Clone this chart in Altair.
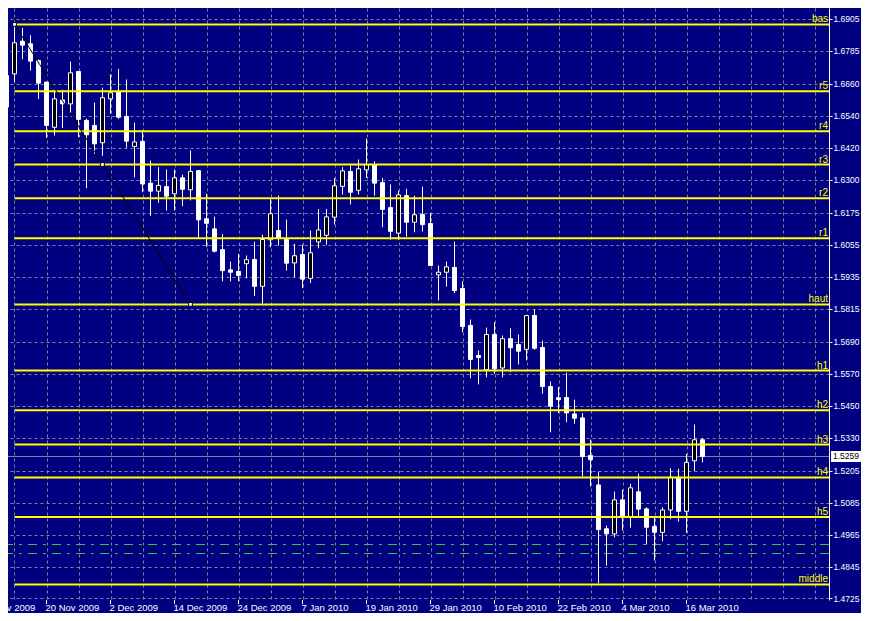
import altair as alt
import pandas as pd

# ---------------- data ----------------
opens = [1.6573, 1.6698, 1.6821, 1.6811, 1.6748, 1.6667, 1.6497, 1.6600, 1.6585, 1.6707,
         1.6523, 1.6504, 1.6439, 1.6604, 1.6629, 1.6538, 1.6425, 1.6444, 1.6287, 1.6257,
         1.6274, 1.6247, 1.6307, 1.6262, 1.6334, 1.6153, 1.6115, 1.6037, 1.5961, 1.5955,
         1.5984, 1.6000, 1.5899, 1.6074, 1.6109, 1.6075, 1.5987, 1.6019, 1.5929, 1.6066,
         1.6091, 1.6159, 1.6275, 1.6331, 1.6260, 1.6337, 1.6356, 1.6289, 1.6195, 1.6099,
         1.6240, 1.6140, 1.6169, 1.6135, 1.5942, 1.5952, 1.5970, 1.5891, 1.5752, 1.5639,
         1.5585, 1.5718, 1.5592, 1.5702, 1.5680, 1.5662, 1.5789, 1.5669, 1.5522, 1.5480,
         1.5481, 1.5419, 1.5404, 1.5263, 1.5152, 1.4987, 1.4968, 1.5096, 1.5033, 1.5126,
         1.5062, 1.4996, 1.4974, 1.5058, 1.5181, 1.5053, 1.5243, 1.5322]
highs = [1.6704, 1.6884, 1.6871, 1.6843, 1.6752, 1.6668, 1.6638, 1.6638, 1.6744, 1.6708,
         1.6529, 1.6590, 1.6646, 1.6696, 1.6717, 1.6677, 1.6515, 1.6485, 1.6372, 1.6347,
         1.6338, 1.6338, 1.6319, 1.6410, 1.6335, 1.6247, 1.6161, 1.6096, 1.5992, 1.6021,
         1.6015, 1.6067, 1.6093, 1.6228, 1.6240, 1.6150, 1.6059, 1.6056, 1.6109, 1.6190,
         1.6190, 1.6306, 1.6347, 1.6353, 1.6376, 1.6455, 1.6369, 1.6307, 1.6282, 1.6259,
         1.6266, 1.6240, 1.6274, 1.6175, 1.5977, 1.5992, 1.6067, 1.5918, 1.5774, 1.5658,
         1.5744, 1.5764, 1.5714, 1.5741, 1.5718, 1.5790, 1.5812, 1.5695, 1.5541, 1.5520,
         1.5574, 1.5473, 1.5422, 1.5323, 1.5202, 1.4999, 1.5127, 1.5134, 1.5156, 1.5194,
         1.5068, 1.5031, 1.5068, 1.5215, 1.5213, 1.5269, 1.5379, 1.5328]
lows = [1.6569, 1.6667, 1.6753, 1.6711, 1.6603, 1.6457, 1.6466, 1.6494, 1.6548, 1.6460,
        1.6268, 1.6397, 1.6390, 1.6548, 1.6529, 1.6420, 1.6309, 1.6253, 1.6164, 1.6213,
        1.6184, 1.6184, 1.6200, 1.6222, 1.6084, 1.6047, 1.6027, 1.5918, 1.5918, 1.5918,
        1.5929, 1.5862, 1.5833, 1.6046, 1.6052, 1.5958, 1.5933, 1.5892, 1.5911, 1.6042,
        1.6055, 1.6131, 1.6244, 1.6207, 1.6244, 1.6306, 1.6240, 1.6121, 1.6074, 1.6074,
        1.6086, 1.6102, 1.6105, 1.5976, 1.5846, 1.5898, 1.5873, 1.5726, 1.5553, 1.5530,
        1.5557, 1.5570, 1.5557, 1.5576, 1.5605, 1.5620, 1.5661, 1.5495, 1.5350, 1.5422,
        1.5388, 1.5382, 1.5184, 1.5146, 1.4782, 1.4849, 1.4955, 1.4981, 1.4991, 1.5033,
        1.4928, 1.4868, 1.4940, 1.5023, 1.5014, 1.4972, 1.5204, 1.5237]
closes = [1.6692, 1.6815, 1.6806, 1.6746, 1.6663, 1.6504, 1.6604, 1.6585, 1.6702, 1.6527,
          1.6469, 1.6435, 1.6608, 1.6627, 1.6535, 1.6445, 1.6442, 1.6284, 1.6257, 1.6278,
          1.6238, 1.6307, 1.6264, 1.6331, 1.6149, 1.6136, 1.6031, 1.5958, 1.5952, 1.5940,
          1.5999, 1.5899, 1.6075, 1.6172, 1.6081, 1.5986, 1.6014, 1.5926, 1.6025, 1.6111,
          1.6160, 1.6277, 1.6333, 1.6253, 1.6341, 1.6357, 1.6287, 1.6188, 1.6106, 1.6243,
          1.6140, 1.6168, 1.6131, 1.5977, 1.5952, 1.5972, 1.5883, 1.5748, 1.5624, 1.5631,
          1.5718, 1.5589, 1.5702, 1.5668, 1.5655, 1.5789, 1.5666, 1.5522, 1.5448, 1.5473,
          1.5423, 1.5403, 1.5259, 1.5247, 1.4984, 1.4968, 1.5096, 1.5033, 1.5141, 1.5061,
          1.4993, 1.4974, 1.5058, 1.5181, 1.5053, 1.5237, 1.5322, 1.5259]

level_names = ["bas", "r5", "r4", "r3", "r2", "r1", "haut", "h1", "h2", "h3", "h4", "h5", "middle"]
level_values = [1.6884, 1.6633, 1.6482, 1.6357, 1.6230, 1.6080, 1.5831,
                1.5582, 1.5433, 1.5304, 1.5180, 1.5031, 1.4778]
level_start_bar = 1
green_values = [1.4928, 1.4894]
last_price = 1.5259

trend_bars = [1, 23]
trend_values = [1.6884, 1.5831]
handle_bars = [1, 12, 23]
handle_values = [1.6884, 1.6357, 1.5831]

date_bars = [-3, 5, 13, 21, 29, 37, 45, 53, 61, 69, 77, 85]
date_labels = ["10 Nov 2009", "20 Nov 2009", "2 Dec 2009", "14 Dec 2009", "24 Dec 2009",
               "7 Jan 2010", "19 Jan 2010", "29 Jan 2010", "10 Feb 2010", "22 Feb 2010",
               "4 Mar 2010", "16 Mar 2010"]
grid_bars = list(range(1, 102, 4))

price_ticks = [1.6905, 1.6785, 1.6660, 1.6540, 1.6420, 1.6300, 1.6175, 1.6055, 1.5935,
               1.5815, 1.5690, 1.5570, 1.5450, 1.5330, 1.5205, 1.5085, 1.4965, 1.4845, 1.4725]

# ---------------- tables ----------------
candles = pd.DataFrame({"i": list(range(len(opens))), "open": opens, "high": highs,
                        "low": lows, "close": closes})
levels = pd.DataFrame({"name": level_names, "value": level_values})
greens = pd.DataFrame({"value": green_values})
trend = pd.DataFrame({"i": trend_bars, "v": trend_values})
handles = pd.DataFrame({"i": handle_bars, "v": handle_values})
dates = pd.DataFrame({"i": date_bars, "label": date_labels})
last = pd.DataFrame({"p": [last_price], "txt": [f"{last_price:.4f}"]})

# ---------------- styling ----------------
BG = "#000080"
GRID = "#778899"
YELLOW = "#FFFF00"
FONT = "Liberation Sans"
W, H = 821, 592
PX_PER_BAR = 8
X0 = 0.1875

xs = alt.Scale(domain=[X0, X0 + W / PX_PER_BAR], nice=False, zero=False, padding=0)
ys = alt.Scale(domain=[1.47193, 1.69457], nice=False, zero=False, padding=0)

x_axis = alt.Axis(values=grid_bars, grid=True, gridColor=GRID, gridDash=[3, 3], gridWidth=1,
                  labels=False, ticks=False, domain=False, title=None)
y_axis = alt.Axis(orient="right", values=price_ticks, format=".4f", grid=True, gridColor=GRID,
                  gridDash=[3, 3], gridWidth=1, labelColor="white", labelFont=FONT,
                  labelFontSize=8.5, tickColor="white", tickSize=3, domainColor="white",
                  domainWidth=1, labelPadding=1, title=None, labelFlush=False,
                  labelOverlap=False)


def X(f):
    return alt.X(f, type="quantitative", scale=xs, axis=x_axis)


def Y(f):
    return alt.Y(f, type="quantitative", scale=ys, axis=y_axis)


green_lines = alt.Chart(greens).mark_rule(color="#33CC33", strokeWidth=1,
                                          strokeDash=[9, 6, 3, 6]).encode(y=Y("value"))
price_line = alt.Chart(last).mark_rule(color=GRID, strokeWidth=1).encode(y=Y("p"))

wicks = alt.Chart(candles).mark_rule(color="white", strokeWidth=1, clip=True).encode(
    x=X("i"), y=Y("low"), y2="high")
bodies = alt.Chart(candles).mark_bar(size=4, stroke="white", strokeWidth=1, clip=True).encode(
    x=X("i"), y=Y("open"), y2="close",
    fill=alt.condition("datum.close > datum.open", alt.value("black"), alt.value("white")))

level_lines = alt.Chart(levels).mark_rule(color=YELLOW, strokeWidth=2).encode(
    x=alt.XDatum(level_start_bar, type="quantitative", scale=xs, axis=x_axis),
    x2=alt.value(W), y=Y("value"))
level_text = alt.Chart(levels).mark_text(align="right", baseline="alphabetic", dy=-2,
                                         color=YELLOW, font=FONT, fontSize=10).encode(
    x=alt.value(W - 1), y=Y("value"), text="name:N")

trend_line = alt.Chart(trend).mark_line(color="black", strokeWidth=1).encode(
    x=X("i"), y=Y("v"))
trend_handles = alt.Chart(handles).mark_square(size=14, fill="white", stroke="black",
                                               strokeWidth=1, opacity=1).encode(
    x=X("i"), y=Y("v"))

date_ticks = alt.Chart(dates).mark_rule(color="white", strokeWidth=1).encode(
    x=X("i"), y=alt.value(H), y2=alt.value(H + 4))
date_text = alt.Chart(dates).mark_text(align="left", baseline="top", dx=-1, color="white",
                                       font=FONT, fontSize=9.5).encode(
    x=X("i"), y=alt.value(H + 3), text="label:N")

price_box = alt.Chart(last).mark_rect(color="white", yOffset=-5.5, y2Offset=5.5).encode(
    x=alt.value(W + 2), x2=alt.value(W + 40), y=Y("p"), y2="p")
price_text = alt.Chart(last).mark_text(align="left", baseline="middle", color="black",
                                       font=FONT, fontSize=8.5).encode(
    x=alt.value(W + 4), y=Y("p"), text="txt:N")

chart = alt.layer(
    green_lines, price_line, wicks, bodies, level_lines, trend_line, trend_handles,
    level_text, date_ticks, date_text, price_box, price_text
).properties(
    width=W, height=H,
    padding={"left": 0, "top": 0, "right": 853 - W, "bottom": 13},
    autosize=alt.AutoSizeParams(type="none"),
    background=BG,
).configure_view(stroke=None, fill=BG)

chart.save("out.html", embed_options={"renderer": "svg", "actions": False})
